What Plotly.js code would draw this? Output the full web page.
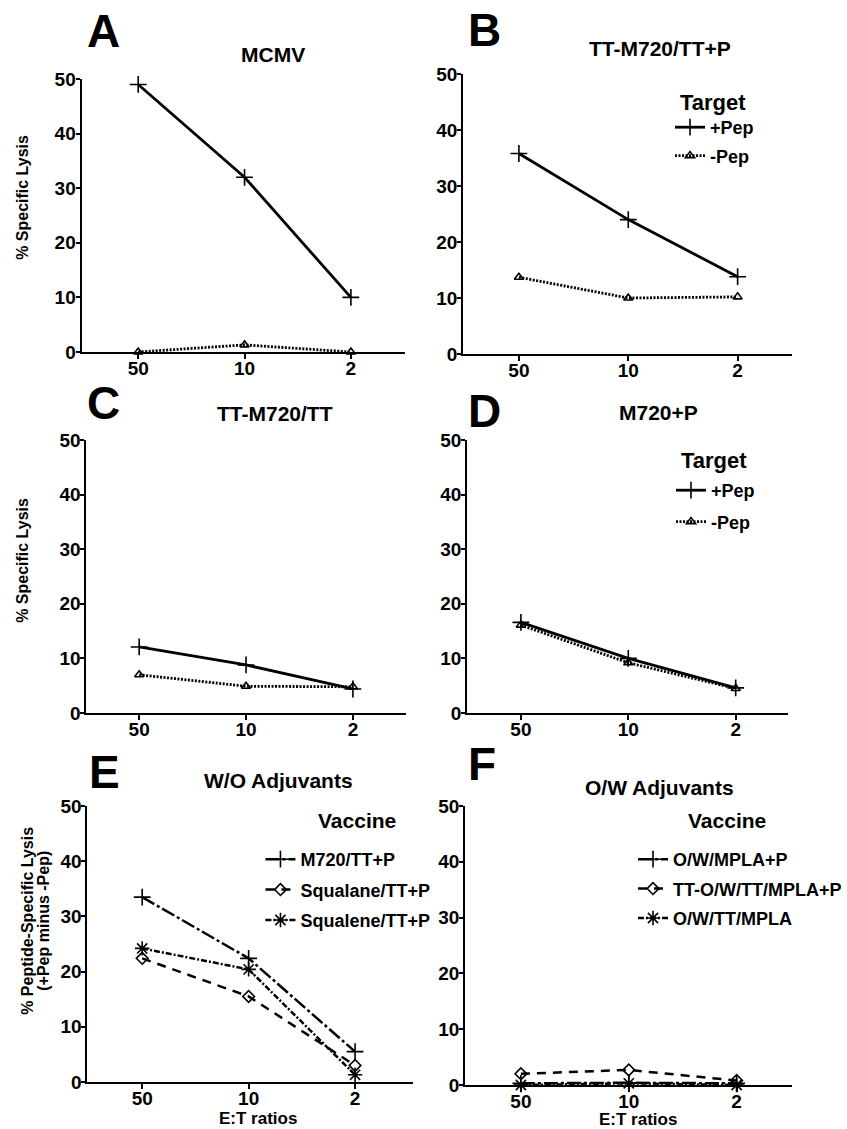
<!DOCTYPE html>
<html>
<head>
<meta charset="utf-8">
<script src="https://cdn.plot.ly/plotly-3.0.1.min.js"></script>
<style>html,body{margin:0;padding:0;background:#fff;}#chart{width:847px;height:1129px;}</style>
</head>
<body>
<div id="chart"></div>
<script>
// ---------- data ----------
const etRatios = ['50', '10', '2'];
const yTicks = [0, 10, 20, 30, 40, 50];

// Panel A : MCMV
const aPlusPep  = [49, 32, 10];
const aMinusPep = [0, 1.3, 0];
// Panel B : TT-M720/TT+P
const bPlusPep  = [35.8, 24, 13.8];
const bMinusPep = [13.7, 10, 10.2];
// Panel C : TT-M720/TT
const cPlusPep  = [12.1, 8.8, 4.4];
const cMinusPep = [7.0, 4.9, 4.8];
// Panel D : M720+P
const dPlusPep  = [16.6, 10.0, 4.6];
const dMinusPep = [16.1, 9.2, 4.5];
// Panel E : W/O Adjuvants (peptide-specific lysis)
const eM720     = [33.5, 22.4, 5.5];
const eSqualane = [22.4, 15.5, 3.0];
const eSqualene = [24.2, 20.4, 1.3];
// Panel F : O/W Adjuvants
const fOWMPLAP    = [0.3, 0.4, 0.3];
const fTTOWMPLAP  = [2.0, 2.7, 0.8];
const fOWTTMPLA   = [0.0, 0.3, 0.0];

const panelTitles = ['MCMV', 'TT-M720/TT+P', 'TT-M720/TT', 'M720+P', 'W/O Adjuvants', 'O/W Adjuvants'];
const panelLetters = ['A', 'B', 'C', 'D', 'E', 'F'];
const legendTitles = ['Target', 'Target', 'Vaccine', 'Vaccine'];

// ---------- styling helpers ----------
const W = 847, H = 1129;
const FONT = 'Liberation Sans, Arial, Helvetica, sans-serif';
const px = v => v / W;
const py = v => 1 - v / H;

function plusTrace(y, xa, ya, name, legend, show) {
  return {x: etRatios, y: y, xaxis: xa, yaxis: ya, name: name, type: 'scatter', mode: 'lines+markers',
    line: {color: 'black', width: 2.8}, cliponaxis: false,
    marker: {symbol: 'cross-thin', size: 12, color: 'black', line: {color: 'black', width: 1.6}},
    legend: legend, showlegend: show, legendgroup: name + xa};
}
function minusTrace(y, xa, ya, name, legend, show) {
  return {x: etRatios, y: y, xaxis: xa, yaxis: ya, name: name, type: 'scatter', mode: 'lines+markers',
    line: {color: 'black', width: 2.8, dash: '2px,1.5px'}, cliponaxis: false,
    marker: {symbol: 'triangle-up-open', size: 8, color: 'black', line: {color: 'black', width: 1.6}},
    legend: legend, showlegend: show, legendgroup: name + xa};
}
function vacTrace(y, xa, ya, name, legend, kind) {
  const styles = {
    plus: {dash: '14px,3px,3px,3px', symbol: 'cross-thin', size: 12},
    diamond: {dash: '9px,7px', symbol: 'diamond-open', size: 9},
    star: {dash: '6px,2px,2px,2px', symbol: 'asterisk', size: 12}
  };
  const s = styles[kind];
  return {x: etRatios, y: y, xaxis: xa, yaxis: ya, name: name, type: 'scatter', mode: 'lines+markers',
    line: {color: 'black', width: 2.5, dash: s.dash}, cliponaxis: false,
    marker: {symbol: s.symbol, size: s.size, color: 'black', line: {color: 'black', width: 1.6}},
    legend: legend, showlegend: true, legendgroup: name};
}

const data = [
  plusTrace(aPlusPep, 'x', 'y', '+Pep', 'legend', false),
  minusTrace(aMinusPep, 'x', 'y', '-Pep', 'legend', false),
  plusTrace(bPlusPep, 'x2', 'y2', '+Pep', 'legend', true),
  minusTrace(bMinusPep, 'x2', 'y2', '-Pep', 'legend', true),
  plusTrace(cPlusPep, 'x3', 'y3', '+Pep', 'legend', false),
  minusTrace(cMinusPep, 'x3', 'y3', '-Pep', 'legend', false),
  plusTrace(dPlusPep, 'x4', 'y4', '+Pep', 'legend2', true),
  minusTrace(dMinusPep, 'x4', 'y4', '-Pep', 'legend2', true),
  vacTrace(eM720, 'x5', 'y5', 'M720/TT+P', 'legend3', 'plus'),
  vacTrace(eSqualane, 'x5', 'y5', 'Squalane/TT+P', 'legend3', 'diamond'),
  vacTrace(eSqualene, 'x5', 'y5', 'Squalene/TT+P', 'legend3', 'star'),
  vacTrace(fOWMPLAP, 'x6', 'y6', 'O/W/MPLA+P', 'legend4', 'plus'),
  vacTrace(fTTOWMPLAP, 'x6', 'y6', 'TT-O/W/TT/MPLA+P', 'legend4', 'diamond'),
  vacTrace(fOWTTMPLA, 'x6', 'y6', 'O/W/TT/MPLA', 'legend4', 'star')
];

// pixel geometry of each panel: [left, right, top(50), bottom(0)], x range
const panels = [
  {l: 82,  r: 407, t: 79,  b: 352,  xr: [-0.533, 2.505]},
  {l: 466, r: 797, t: 74,  b: 354,  xr: [-0.509, 2.5]},
  {l: 87,  r: 408, t: 440, b: 713,  xr: [-0.493, 2.493]},
  {l: 470, r: 793, t: 440, b: 713,  xr: [-0.5, 2.49]},
  {l: 88,  r: 415, t: 806, b: 1082, xr: [-0.514, 2.54]},
  {l: 468, r: 797, t: 806, b: 1085, xr: [-0.516, 2.516]}
];

const layout = {
  width: W, height: H,
  margin: {l: 0, r: 0, t: 0, b: 0},
  paper_bgcolor: 'white', plot_bgcolor: 'white',
  font: {family: FONT, color: 'black'},
  annotations: [],
  showlegend: true
};

panels.forEach((p, i) => {
  const n = i === 0 ? '' : String(i + 1);
  layout['xaxis' + n] = {
    domain: [px(p.l), px(p.r)], range: p.xr, type: 'category', anchor: 'y' + n,
    showline: true, linecolor: 'black', linewidth: 2, mirror: false,
    ticks: 'outside', ticklen: 5, tickwidth: 2, tickcolor: 'black', ticklabelstandoff: -7,
    showgrid: false, zeroline: false, fixedrange: true,
    tickfont: {family: FONT, size: 19, color: 'black', weight: 'bold'}
  };
  layout['yaxis' + n] = {
    domain: [py(p.b), py(p.t)], range: [0, 50], tickvals: yTicks, anchor: 'x' + n,
    showline: true, linecolor: 'black', linewidth: 2,
    ticks: 'outside', ticklen: 4, tickwidth: 2, tickcolor: 'black', ticklabelstandoff: -4,
    showgrid: false, zeroline: false, fixedrange: true,
    tickfont: {family: FONT, size: 19, color: 'black', weight: 'bold'}
  };
});

function ann(text, x, y, size, extra) {
  return Object.assign({text: text, x: px(x), y: py(y), xref: 'paper', yref: 'paper',
    xanchor: 'center', yanchor: 'middle', showarrow: false,
    font: {family: FONT, size: size, color: 'black', weight: 'bold'}}, extra || {});
}

const letterPos = [[104, 31], [487, 30], [104, 403], [487, 411], [105, 772], [485, 764]];
const titlePos = [[275, 54], [664, 49], [277, 413], [662, 412], [280, 780], [663, 787]];
letterPos.forEach((p, i) => layout.annotations.push(ann(panelLetters[i], p[0], p[1], 46)));
titlePos.forEach((p, i) => layout.annotations.push(ann(panelTitles[i], p[0], p[1], 21)));

// legend headings
const legTitlePos = [[682, 102, 'left'], [683, 460, 'left'], [359, 820, 'center'], [731, 820, 'center']];
legTitlePos.forEach((p, i) => layout.annotations.push(ann(legendTitles[i], p[0], p[1], i < 2 ? 22 : 21, {xanchor: p[2]})));

layout.annotations.push(ann('% Specific Lysis', 22, 197, 16, {textangle: -90}));
layout.annotations.push(ann('% Specific Lysis', 22, 560, 16, {textangle: -90}));
layout.annotations.push(ann('% Peptide-Specific Lysis', 27, 921, 16, {textangle: -90}));
layout.annotations.push(ann('(+Pep minus -Pep)', 43, 921, 16, {textangle: -90}));
layout.annotations.push(ann('E:T ratios', 260, 1118, 17));
layout.annotations.push(ann('E:T ratios', 642, 1119, 17));

function legendCfg(x, y, gap) {
  return {x: px(x), y: py(y), xanchor: 'left', yanchor: 'top', bgcolor: 'rgba(0,0,0,0)', borderwidth: 0,
    font: {family: FONT, size: 18, color: 'black', weight: 'bold'},
    traceorder: 'grouped', tracegroupgap: gap, itemwidth: 30, itemclick: false, itemdoubleclick: false};
}
layout.legend  = legendCfg(674, 109, 2);
layout.legend2 = legendCfg(675, 472, 5);
layout.legend3 = legendCfg(262, 841, 4);
layout.legend4 = legendCfg(637, 841, 3);

Plotly.newPlot('chart', data, layout, {staticPlot: true, displayModeBar: false});
</script>
</body>
</html>
